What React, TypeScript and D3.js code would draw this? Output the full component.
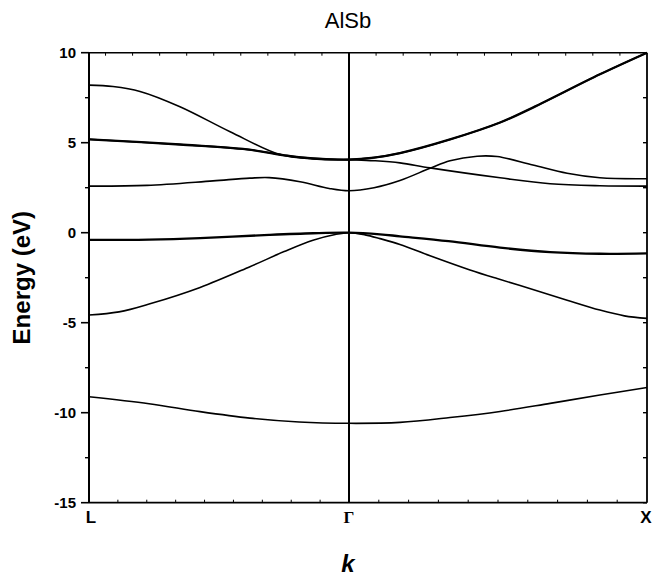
import React from "react";
import * as d3 from "d3";

// k-path positions: L = 0, Γ = 0.866, X = 1.866
const kPoints = [0, 0.866, 1.866];
const kLabels = ["L", "Γ", "X"];
const yTicks = [10, 5, 0, -5, -10, -15];
const yMinor = [7.5, 2.5, -2.5, -7.5, -12.5];
const title = "AlSb";

// bands: [k, energy eV]
const band1: [number, number][] = [
  [0, -9.11], [0.2, -9.5], [0.37, -9.94], [0.536, -10.3], [0.7, -10.52], [0.866, -10.59],
  [1.037, -10.54], [1.205, -10.27], [1.373, -9.93], [1.541, -9.48], [1.708, -9.02], [1.866, -8.6],
];
const band2: [number, number][] = [
  [0, -4.57], [0.1, -4.4], [0.203, -3.95], [0.37, -3.04], [0.536, -1.89], [0.65, -1.05],
  [0.746, -0.42], [0.82, -0.1], [0.866, 0], [0.92, -0.12], [0.97, -0.33], [1.037, -0.65],
  [1.138, -1.28], [1.272, -2.07], [1.363, -2.55], [1.483, -3.15], [1.598, -3.75], [1.708, -4.3],
  [1.79, -4.62], [1.866, -4.76],
];
const band3: [number, number][] = [
  [0, -0.4], [0.2, -0.38], [0.37, -0.3], [0.6, -0.12], [0.746, -0.03], [0.866, 0],
  [0.97, -0.09], [1.037, -0.2], [1.2, -0.47], [1.373, -0.83], [1.541, -1.08], [1.708, -1.17],
  [1.866, -1.15],
];
const band4: [number, number][] = [
  [0, 2.59], [0.193, 2.63], [0.413, 2.88], [0.536, 3.03], [0.6, 3.06], [0.703, 2.83],
  [0.8, 2.46], [0.866, 2.33], [0.95, 2.5], [1.037, 2.9], [1.138, 3.58], [1.205, 4.0],
  [1.296, 4.25], [1.363, 4.23], [1.483, 3.76], [1.598, 3.3], [1.708, 3.05], [1.866, 3.0],
];
const band5: [number, number][] = [
  [0, 5.19], [0.303, 4.9], [0.526, 4.63], [0.66, 4.28], [0.746, 4.13], [0.866, 4.06],
  [0.95, 4.0], [1.037, 3.88], [1.138, 3.6], [1.373, 3.05], [1.541, 2.72], [1.708, 2.61],
  [1.866, 2.59],
];
const band6: [number, number][] = [
  [0, 5.19], [0.303, 4.9], [0.526, 4.63], [0.66, 4.28], [0.746, 4.13], [0.866, 4.06],
  [0.95, 4.17], [1.037, 4.42], [1.205, 5.18], [1.373, 6.12], [1.483, 6.95], [1.708, 8.8],
  [1.866, 10.0],
];
const band7: [number, number][] = [
  [0, 8.2], [0.08, 8.12], [0.17, 7.85], [0.303, 7.0], [0.47, 5.61], [0.636, 4.34], [0.746, 4.1],
  [0.866, 4.06], [0.95, 4.17], [1.037, 4.42], [1.205, 5.18], [1.373, 6.12], [1.483, 6.95],
  [1.708, 8.8], [1.866, 10.0],
];

const bands = [
  { pts: band1, w: 1.6 },
  { pts: band2, w: 1.6 },
  { pts: band3, w: 2.3 },
  { pts: band4, w: 1.6 },
  { pts: band5, w: 1.6 },
  { pts: band7, w: 1.6 },
  { pts: band6, w: 2.3 },
];

export default function App() {
  const W = 653, H = 578;
  const x = d3.scaleLinear().domain(kPoints).range([89, 349, 647]);
  const y = d3.scaleLinear().domain([-15, 10]).range([502.7, 52.7]);
  const line = d3.line<[number, number]>().x(d => x(d[0])).y(d => y(d[1])).curve(d3.curveCatmullRom.alpha(0.5));

  const bottomTicks = [
    ...d3.range(1, 9).map(i => (i * kPoints[1]) / 9),
    ...d3.range(1, 10).map(i => kPoints[1] + i * 0.1),
  ];
  const topTicks = [
    ...d3.range(1, 11).map(n => kPoints[2] - n / 11),
    ...d3.range(1, 10).map(n => kPoints[1] - n * 0.0901),
  ];
  const rightTicks = [...yTicks, ...yMinor];

  const x0 = x(kPoints[0]), x1 = x(kPoints[2]);
  const yT = y(10), yB = y(-15);

  return (
    <svg width={W} height={H} style={{ position: "absolute", left: 0, top: 0, background: "#fff" }}
      fontFamily="'Liberation Sans', Arial, sans-serif">
      <rect width={W} height={H} fill="#fff" />
      <text x={348} y={28} fontSize={22} textAnchor="middle">{title}</text>

      {/* bands */}
      <g fill="none" stroke="#000" strokeLinejoin="round">
        {bands.map((b, i) => (
          <path key={i} d={line(b.pts) || ""} strokeWidth={b.w} />
        ))}
      </g>

      {/* Γ line */}
      <line x1={x(kPoints[1])} x2={x(kPoints[1])} y1={yT} y2={yB} stroke="#000" strokeWidth={2} />

      {/* frame */}
      <g stroke="#000" fill="none">
        <line x1={x0} x2={x1} y1={yT} y2={yT} strokeWidth={1.6} />
        <line x1={x0} x2={x1} y1={yB} y2={yB} strokeWidth={1.8} />
        <line x1={x0} x2={x0} y1={yT} y2={yB} strokeWidth={2} />
        <line x1={x1} x2={x1} y1={yT} y2={yB} strokeWidth={1.8} />
        {yTicks.map(t => <line key={"ym" + t} x1={x0 - 8} x2={x0} y1={y(t)} y2={y(t)} strokeWidth={1.6} />)}
        {yMinor.map(t => <line key={"yn" + t} x1={x0 - 4} x2={x0} y1={y(t)} y2={y(t)} strokeWidth={1.4} />)}
        {rightTicks.map(t => <line key={"yr" + t} x1={x1 - 4} x2={x1} y1={y(t)} y2={y(t)} strokeWidth={1.4} />)}
        {bottomTicks.map((t, i) => <line key={"b" + i} x1={x(t)} x2={x(t)} y1={yB - 3} y2={yB} strokeWidth={1} />)}
        {topTicks.map((t, i) => <line key={"t" + i} x1={x(t)} x2={x(t)} y1={yT} y2={yT + 3} strokeWidth={1} />)}
      </g>

      {/* y tick labels */}
      {yTicks.map(t => (
        <text key={"yl" + t} x={76} y={y(t) + 5.5} fontSize={15} fontWeight="bold" textAnchor="end">{t}</text>
      ))}

      {/* k-point labels */}
      {kPoints.map((k, i) => (
        <text key={"kl" + i} x={x(k) + (i === 0 ? 2 : i === 2 ? -1 : 0)} y={523} fontSize={17} fontWeight="bold"
          textAnchor="middle"
          fontFamily={i === 1 ? "'Liberation Serif', 'Times New Roman', serif" : undefined}>
          {kLabels[i]}
        </text>
      ))}

      <text x={348} y={572} fontSize={24} fontWeight="bold" fontStyle="italic" textAnchor="middle">k</text>
      <text transform={`translate(30, ${(yT + yB) / 2}) rotate(-90)`} fontSize={24} fontWeight="bold" textAnchor="middle">
        Energy (eV)
      </text>
    </svg>
  );
}
